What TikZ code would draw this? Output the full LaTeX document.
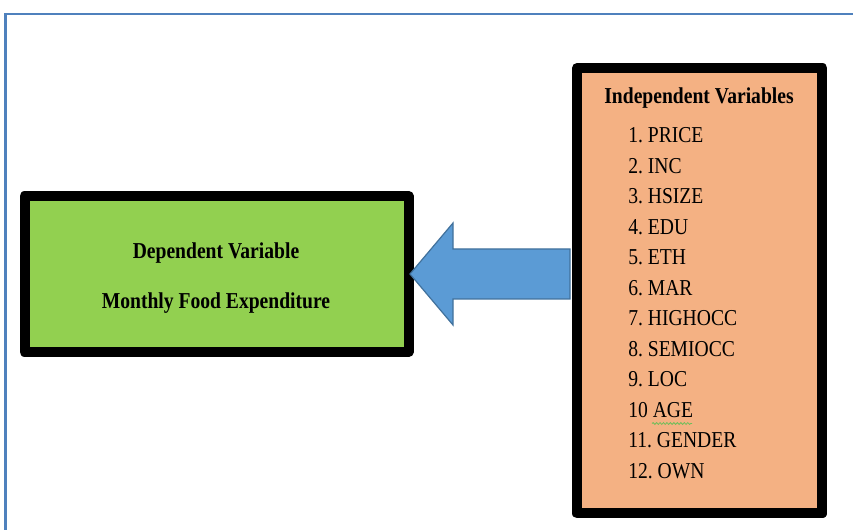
\documentclass[tikz,border=0pt]{standalone}
\usepackage{fontspec}
\setmainfont{Liberation Serif}
\usetikzlibrary{calc,decorations.pathmorphing}
\frenchspacing

\definecolor{frameblue}{RGB}{79,129,189}
\definecolor{depgreen}{RGB}{146,208,80}
\definecolor{indpeach}{RGB}{244,177,131}
\definecolor{arrowfill}{RGB}{91,155,213}
\definecolor{arrowline}{RGB}{65,113,156}
\definecolor{squiggle}{RGB}{110,190,90}
\newcommand{\tallt}[1]{\scalebox{1}[1.16]{#1}}

\begin{document}
\begin{tikzpicture}[x=0.75pt,y=0.75pt,yscale=-1,xscale=1,
    varbox/.style={draw=black,line width=7.5pt,line join=round,inner sep=0pt},
    lbl/.style={inner sep=0pt,font=\fontsize{14.7}{17}\selectfont},
    boldlbl/.style={inner sep=0pt,font=\fontsize{14.7}{17}\selectfont\bfseries}]
  \useasboundingbox (0,0) rectangle (853,530);

  %Frame lines
  \draw [frameblue, line width=2pt] (5.5,530) -- (5.5,14) -- (853,14) ;

  %Shape: Rectangle [dependent]
  \node [varbox, fill=depgreen, minimum width=288pt, minimum height=117pt] (dep) at (216.5,274) {};
  %Shape: Rectangle [independent]
  \node [varbox, fill=indpeach, minimum width=184.1pt, minimum height=334.1pt] (indep) at (699.75,290.75) {};

  %Shape: Left Arrow
  \coordinate (tip) at ($(dep.east)+(-3.5,0)$);
  \coordinate (tail) at (indep.west |- tip);
  \draw [arrowline, fill=arrowfill, line width=0.9pt, line join=miter]
    (tip) -- ++(43,-51) -- ++(0,26) -- ($(tail)+(-2,-25)$) -- ($(tail)+(-2,25)$)
    -- ($(tip)+(43,25)$) -- ++(0,26) -- cycle ;

  % Text Node
  \node [boldlbl, anchor=base] (deptitle) at (216,258.3) {\tallt{Dependent Variable}};
  % Text Node
  \node [boldlbl, anchor=base] (depname) at (216,308.3) {\tallt{Monthly Food Expenditure}};
  % Text Node
  \node [boldlbl, anchor=base] (indtitle) at (699,103.3) {\tallt{Independent Variables}};
  % Text Nodes [list]
  \foreach \lab [count=\i] in {1. PRICE,2. INC,3. HSIZE,4. EDU,5. ETH,6. MAR,7. HIGHOCC,8. SEMIOCC,9. LOC,10 AGE,11. GENDER,12. OWN}
    \node [lbl, anchor=base west] (item\i) at (628,{143+(\i-1)*30.5}) {\tallt{\lab}};

  %Spelling mark
  \draw [squiggle, line width=0.6pt, decorate, decoration={snake,amplitude=0.7pt,segment length=2.6pt}]
    ($(item10.base west)+(24,6)$) -- ++(40,0) ;
\end{tikzpicture}
\end{document}
